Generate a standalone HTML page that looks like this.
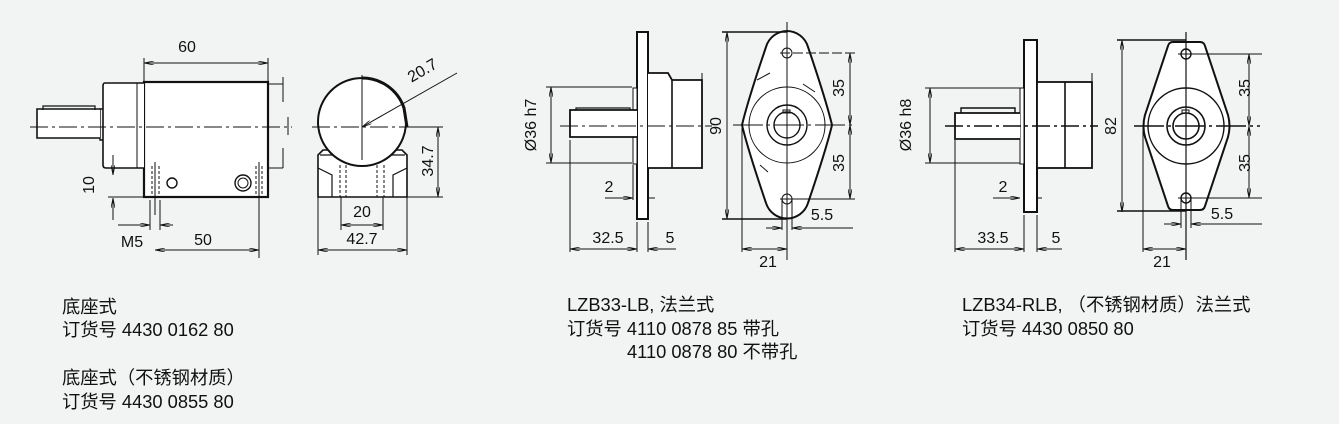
<!DOCTYPE html>
<html><head><meta charset="utf-8">
<style>
html,body{margin:0;padding:0;background:#f2f3f3;}
svg{display:block}
text{font-family:"Liberation Sans","Noto Sans CJK SC",sans-serif;fill:#111}
.t{font-size:18.3px}
.d{font-size:16px}
</style></head>
<body>
<svg width="1339" height="424" viewBox="0 0 1339 424" xmlns="http://www.w3.org/2000/svg">
<defs>
<marker id="a" viewBox="0 0 10 4" refX="10" refY="2" markerWidth="10" markerHeight="4" orient="auto-start-reverse" markerUnits="userSpaceOnUse"><path d="M0,0 L10,2 L0,4" fill="none" stroke="#111" stroke-width="0.8"/></marker>
</defs>
<g fill="none" stroke="#111" stroke-width="1">
<rect x="144" y="82" width="124" height="115" fill="#fff" stroke-width="2.2"/>
<path d="M144,83 H105 Q103,83 103,86 V165 Q103,168 106,168 H144" fill="#fff" stroke-width="1.6"/>
<line x1="137" y1="83" x2="137" y2="168"/>
<path d="M103,109 H100 V140 H103" stroke-width="1.4"/>
<path d="M100,109 H37 V138 H100" fill="#fff" stroke-width="1.6"/>
<path d="M43,110 V106 H95 V110" stroke-width="1.2"/>
<path d="M268,84 H283 M268,168 H283" stroke-width="1"/>
<line x1="283" y1="77" x2="283" y2="102"/><line x1="283" y1="148" x2="283" y2="168"/>
<line x1="30" y1="127" x2="292" y2="127" stroke-dasharray="18,4,3,4"/>
<line x1="288" y1="117" x2="288" y2="135"/>
<line x1="119" y1="168" x2="144" y2="168"/>
<path d="M152,166 V197 M159,166 V197 M256,166 V197 M262,166 V197" stroke-dasharray="3,2"/>
<path d="M155,162 V215 M259,162 V258"/>
<circle cx="172" cy="183" r="5" stroke-width="1.4"/>
<circle cx="243" cy="183" r="8" stroke-width="1.4"/>
<circle cx="243" cy="183" r="5"/>
<line x1="144" y1="63" x2="268" y2="63" marker-start="url(#a)" marker-end="url(#a)"/>
<line x1="144" y1="58" x2="144" y2="82"/><line x1="268" y1="58" x2="268" y2="82"/>
<line x1="113" y1="155" x2="113" y2="175" marker-end="url(#a)"/>
<line x1="113" y1="198" x2="113" y2="220" marker-start="url(#a)"/>
<line x1="108" y1="197" x2="144" y2="197"/>
<line x1="118" y1="225" x2="150" y2="225" marker-end="url(#a)"/>
<line x1="160" y1="225" x2="173" y2="225" marker-start="url(#a)"/>
<line x1="150" y1="200" x2="150" y2="230"/><line x1="160" y1="200" x2="160" y2="230"/>
<line x1="155" y1="250" x2="259" y2="250" marker-start="url(#a)" marker-end="url(#a)"/>
<path d="M318,197 V155 L323,150 L402,150 L407,155 V197 Z" fill="#fff" stroke-width="1.6"/>
<path d="M320,155 H405 M318,168 L332,175 V197 M407,168 L393,175 V197" stroke-width="1.2"/>
<path d="M340,165 V197 M346,165 V197 M377,165 V197 M384,165 V197" stroke-dasharray="3,2"/>
<circle cx="362" cy="122" r="44" fill="#fff" stroke-width="2"/>
<path d="M362,78 A44,44 0 0 1 404,108 L407,127" stroke-width="3"/>
<line x1="312" y1="127" x2="412" y2="127" stroke-dasharray="18,4,3,4"/>
<line x1="362" y1="75" x2="362" y2="160"/>
<line x1="362" y1="127" x2="457" y2="73" marker-start="url(#a)"/>
<line x1="438" y1="127" x2="438" y2="197" marker-start="url(#a)" marker-end="url(#a)"/>
<line x1="410" y1="127" x2="443" y2="127"/><line x1="407" y1="197" x2="443" y2="197"/>
<line x1="341" y1="225" x2="383" y2="225" marker-start="url(#a)" marker-end="url(#a)"/>
<line x1="341" y1="197" x2="341" y2="230"/><line x1="383" y1="197" x2="383" y2="230"/>
<line x1="318" y1="250" x2="407" y2="250" marker-start="url(#a)" marker-end="url(#a)"/>
<line x1="318" y1="197" x2="318" y2="255"/><line x1="407" y1="197" x2="407" y2="255"/>

<rect x="637" y="32" width="11" height="187" fill="#fff" stroke-width="2"/>
<path d="M648,73 H668 L672,80 H702 V168 H648" fill="#fff" stroke-width="1.8"/>
<line x1="672" y1="80" x2="672" y2="168" stroke-width="1.6"/>
<line x1="702" y1="73" x2="702" y2="80"/>
<rect x="633" y="88" width="4" height="76" fill="#fff"/>
<path d="M637,110 H570 V137 H637" fill="#fff" stroke-width="1.8"/>
<path d="M576,110 V108 H630 V110" stroke-width="1.2"/>
<line x1="560" y1="126" x2="712" y2="126" stroke-dasharray="18,4,3,4"/>
<line x1="551" y1="87" x2="551" y2="163" marker-start="url(#a)" marker-end="url(#a)"/>
<line x1="546" y1="87" x2="632" y2="87"/><line x1="546" y1="163" x2="632" y2="163"/>
<line x1="605" y1="198" x2="633" y2="198" marker-end="url(#a)"/>
<line x1="648" y1="198" x2="655" y2="198"/>
<line x1="633" y1="165" x2="633" y2="200"/>
<line x1="570" y1="140" x2="570" y2="252"/><line x1="637" y1="222" x2="637" y2="252"/><line x1="648" y1="222" x2="648" y2="252"/>
<line x1="570" y1="249" x2="637" y2="249" marker-start="url(#a)" marker-end="url(#a)"/>
<line x1="648" y1="249" x2="676" y2="249" marker-start="url(#a)"/>
<path d="M787,31 A22,22 0 0 0 766,47 Q748,100 742,125 Q748,150 766,203 A22,22 0 0 0 808,203 Q826,150 832,125 Q826,100 808,47 A22,22 0 0 0 787,31 Z" fill="#fff" stroke-width="2"/>
<circle cx="787" cy="125" r="38"/>
<path d="M757,80 L770,73 M803,84 L815,92 M760,165 L768,172" stroke-width="1"/>
<circle cx="787" cy="125" r="20" stroke-width="1.4"/>
<circle cx="787" cy="125" r="13" stroke-width="1.4"/>
<rect x="783" y="110" width="7" height="3"/>
<circle cx="787" cy="53" r="5"/><circle cx="787" cy="199" r="5"/>
<line x1="787" y1="22" x2="787" y2="260"/>
<line x1="733" y1="125" x2="855" y2="125" stroke-dasharray="30,4,3,4"/>
<line x1="780" y1="53" x2="855" y2="53" stroke-dasharray="10,3"/>
<line x1="780" y1="199" x2="855" y2="199"/>
<line x1="727" y1="32" x2="727" y2="219" marker-start="url(#a)" marker-end="url(#a)"/>
<line x1="722" y1="32" x2="787" y2="32" stroke-width="1.6"/><line x1="722" y1="219" x2="787" y2="219" stroke-width="1.6"/>
<line x1="850" y1="53" x2="850" y2="125" marker-start="url(#a)" marker-end="url(#a)"/>
<line x1="850" y1="125" x2="850" y2="199" marker-start="url(#a)" marker-end="url(#a)"/>
<line x1="782" y1="199" x2="782" y2="230"/><line x1="792" y1="199" x2="792" y2="230"/>
<line x1="766" y1="228" x2="782" y2="228" marker-end="url(#a)"/>
<line x1="792" y1="228" x2="853" y2="228" marker-start="url(#a)"/>
<line x1="742" y1="128" x2="742" y2="252"/>
<line x1="742" y1="249" x2="787" y2="249" marker-start="url(#a)" marker-end="url(#a)"/>

<rect x="1024" y="40" width="13" height="172" fill="#fff" stroke-width="2"/>
<rect x="1037" y="82" width="55" height="86" fill="#fff" stroke-width="1.8"/>
<line x1="1065" y1="82" x2="1065" y2="168" stroke-width="1.6"/>
<line x1="1092" y1="73" x2="1092" y2="82"/>
<rect x="1020" y="88" width="4" height="76" fill="#fff"/>
<path d="M1020,113 H955 V139 H1020" fill="#fff" stroke-width="1.8"/>
<path d="M961,113 V108 H1015 V113" stroke-width="1.4"/>
<line x1="945" y1="126" x2="1098" y2="126" stroke-dasharray="18,4,3,4" stroke-width="1.4"/>
<line x1="930" y1="88" x2="930" y2="163" marker-start="url(#a)" marker-end="url(#a)"/>
<line x1="925" y1="88" x2="1020" y2="88"/><line x1="925" y1="163" x2="1020" y2="163"/>
<line x1="993" y1="198" x2="1020" y2="198" marker-end="url(#a)"/>
<line x1="1037" y1="198" x2="1042" y2="198"/>
<line x1="955" y1="140" x2="955" y2="252"/><line x1="1024" y1="215" x2="1024" y2="252"/><line x1="1037" y1="215" x2="1037" y2="252"/>
<line x1="955" y1="249" x2="1024" y2="249" marker-start="url(#a)" marker-end="url(#a)"/>
<line x1="1037" y1="249" x2="1062" y2="249" marker-start="url(#a)"/>
<line x1="1122" y1="40" x2="1122" y2="212" marker-start="url(#a)" marker-end="url(#a)"/>
<line x1="1117" y1="40" x2="1186" y2="40" stroke-width="1.6"/><line x1="1117" y1="211" x2="1186" y2="211" stroke-width="1.6"/>
<path d="M1173,42 H1200 Q1204,42 1205,46 L1228,115 Q1231,126 1228,137 L1205,206 Q1204,210 1200,210 H1173 Q1169,210 1168,206 L1145,137 Q1142,126 1145,115 L1168,46 Q1169,42 1173,42 Z" fill="#fff" stroke-width="2"/>
<circle cx="1186" cy="126" r="38" stroke-width="1.4"/>
<circle cx="1186" cy="126" r="19" stroke-width="1.6"/>
<circle cx="1186" cy="126" r="13" stroke-width="1.6"/>
<rect x="1182" y="110" width="7" height="3"/>
<circle cx="1186" cy="54" r="5" stroke-width="1.4"/><circle cx="1186" cy="198" r="5" stroke-width="1.4"/>
<line x1="1186" y1="32" x2="1186" y2="260" stroke-width="1.2"/>
<line x1="1134" y1="126" x2="1260" y2="126" stroke-dasharray="30,4,3,4" stroke-width="1.4"/>
<line x1="1178" y1="54" x2="1262" y2="54"/>
<line x1="1178" y1="198" x2="1262" y2="198"/>
<line x1="1249" y1="54" x2="1249" y2="126" marker-start="url(#a)" marker-end="url(#a)"/>
<line x1="1249" y1="126" x2="1249" y2="198" marker-start="url(#a)" marker-end="url(#a)"/>
<line x1="1181" y1="198" x2="1181" y2="228"/><line x1="1191" y1="198" x2="1191" y2="228"/>
<line x1="1164" y1="224" x2="1181" y2="224" marker-end="url(#a)"/>
<line x1="1191" y1="224" x2="1262" y2="224" marker-start="url(#a)"/>
<line x1="1143" y1="128" x2="1143" y2="252"/>
<line x1="1143" y1="249" x2="1186" y2="249" marker-start="url(#a)" marker-end="url(#a)"/>
</g>

<g class="d">
<text x="187" y="52" text-anchor="middle">60</text>
<text transform="translate(94,185) rotate(-90)" text-anchor="middle">10</text>
<text x="132" y="247" text-anchor="middle">M5</text>
<text x="203" y="245" text-anchor="middle">50</text>
<text x="362" y="217" text-anchor="middle">20</text>
<text x="362" y="244" text-anchor="middle">42.7</text>
<text transform="translate(425,75) rotate(-30)" text-anchor="middle">20.7</text>
<text transform="translate(433,161) rotate(-90)" text-anchor="middle">34.7</text>
<text transform="translate(536,125) rotate(-90)" text-anchor="middle">Ø36 h7</text>
<text x="609" y="192" text-anchor="middle">2</text>
<text x="608" y="243" text-anchor="middle">32.5</text>
<text x="670" y="243" text-anchor="middle">5</text>
<text transform="translate(721,126) rotate(-90)" text-anchor="middle">90</text>
<text transform="translate(844,88) rotate(-90)" text-anchor="middle">35</text>
<text transform="translate(844,163) rotate(-90)" text-anchor="middle">35</text>
<text x="822" y="220" text-anchor="middle">5.5</text>
<text x="768" y="267" text-anchor="middle">21</text>
<text transform="translate(911,125) rotate(-90)" text-anchor="middle">Ø36 h8</text>
<text x="1003" y="192" text-anchor="middle">2</text>
<text x="993" y="243" text-anchor="middle">33.5</text>
<text x="1056" y="243" text-anchor="middle">5</text>
<text transform="translate(1116,126) rotate(-90)" text-anchor="middle">82</text>
<text transform="translate(1250,88) rotate(-90)" text-anchor="middle">35</text>
<text transform="translate(1250,163) rotate(-90)" text-anchor="middle">35</text>
<text x="1222" y="219" text-anchor="middle">5.5</text>
<text x="1162" y="267" text-anchor="middle">21</text>
</g>

<g class="t">
<text x="62" y="313">底座式</text>
<text x="62" y="336">订货号 4430 0162 80</text>
<text x="62" y="384">底座式（不锈钢材质）</text>
<text x="62" y="408">订货号 4430 0855 80</text>
<text x="567" y="311">LZB33-LB, 法兰式</text>
<text x="567" y="335">订货号 4110 0878 85 带孔</text>
<text x="627" y="358">4110 0878 80 不带孔</text>
<text x="962" y="311">LZB34-RLB, （不锈钢材质）法兰式</text>
<text x="962" y="335">订货号 4430 0850 80</text>
</g>
</svg>
</body></html>
